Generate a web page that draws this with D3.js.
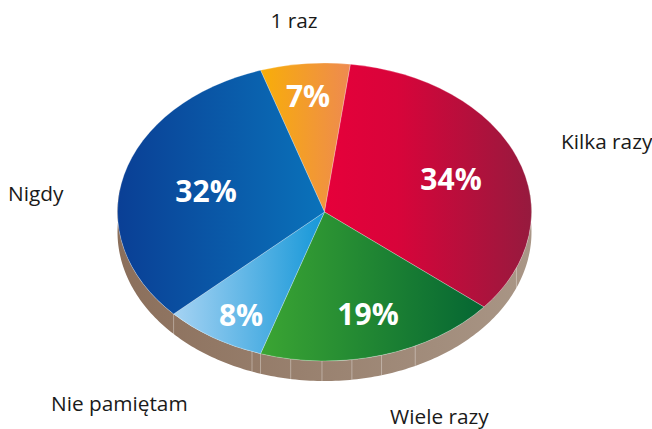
<!DOCTYPE html>
<html><head><meta charset="utf-8">
<script src="https://cdn.jsdelivr.net/npm/d3@7/dist/d3.min.js"></script>
<style>html,body{margin:0;background:#fff}svg{display:block}text{font-family:"Open Sans",sans-serif}</style>
</head><body><svg id="c" width="652" height="429"></svg>
<script>
const categories = ["1 raz","Kilka razy","Wiele razy","Nie pamiętam","Nigdy"];
const values = [7,34,19,8,32];
const gradStart = ["#f8ae08","#e6003a","#3ba533","#a6d3f3","#0a3f95"];
const gradEnd = ["#ee8a50","#961a3e","#056633","#1597d8","#0a72ba"];
const seamDegrees = [112,154,164,172.4,180.7,189.4,198,200.5,226.8];
const catPos = [[294,28],[561,149],[390,424],[51,411],[8,201]];
const pctPos = [[308,107],[451,190],[368,325],[241,326],[206,202]];

const cx=324.5,cy=212,rx=207,ry=149,depth=20,startDeg=-18;
const svg=d3.select("#c");
const defs=svg.append("defs");
gradStart.forEach((c,i)=>{
  const g=defs.append("linearGradient").attr("id","g"+i);
  g.append("stop").attr("offset","0%").attr("stop-color",c);
  g.append("stop").attr("offset",i==1?"35%":"100%").attr("stop-color",i==1?"#d8043a":gradEnd[i]);
  if(i==1) g.append("stop").attr("offset","100%").attr("stop-color",gradEnd[i]);
});
const sg=defs.append("linearGradient").attr("id","sideGrad");
sg.append("stop").attr("offset","0%").attr("stop-color","#8b6f5b");
sg.append("stop").attr("offset","100%").attr("stop-color","#a99686");

const rad=d=>d*Math.PI/180;
const px=a=>cx+rx*Math.sin(a), py=a=>cy-ry*Math.cos(a);
const sideArea=d3.area().x(px).y0(py).y1(a=>py(a)+depth);
svg.append("path").attr("d",sideArea(d3.range(80,281,1).map(rad))).attr("fill","url(#sideGrad)");
svg.selectAll("line.seam").data(seamDegrees.map(rad)).join("line").attr("class","seam")
  .attr("x1",px).attr("x2",px).attr("y1",py).attr("y2",a=>py(a)+depth)
  .attr("stroke","#fff").attr("stroke-opacity",.35).attr("stroke-width",1);

const pie=d3.pie().sort(null).startAngle(rad(startDeg)).endAngle(rad(startDeg+360));
const arcs=pie(values);
const arc=d3.arc().innerRadius(0).outerRadius(rx);
const face=svg.append("g").attr("transform",`translate(${cx},${cy}) scale(1,${ry/rx})`);
face.selectAll("path").data(arcs).join("path").attr("d",arc)
  .attr("fill",(d,i)=>`url(#g${i})`)
  .attr("stroke","#fff").attr("stroke-opacity",.25).attr("stroke-width",1)
  .attr("vector-effect","non-scaling-stroke");

svg.selectAll("text.pct").data(values).join("text").attr("class","pct")
  .attr("x",(d,i)=>pctPos[i][0]).attr("y",(d,i)=>pctPos[i][1])
  .attr("text-anchor","middle").attr("font-size",30).attr("font-weight",700).attr("fill","#fff")
  .text(d=>d+"%");
svg.selectAll("text.cat").data(categories).join("text").attr("class","cat")
  .attr("x",(d,i)=>catPos[i][0]).attr("y",(d,i)=>catPos[i][1])
  .attr("text-anchor",(d,i)=>i==0?"middle":"start").attr("font-size",20.8).attr("fill","#1a1a1a")
  .text(d=>d);
</script></body></html>
